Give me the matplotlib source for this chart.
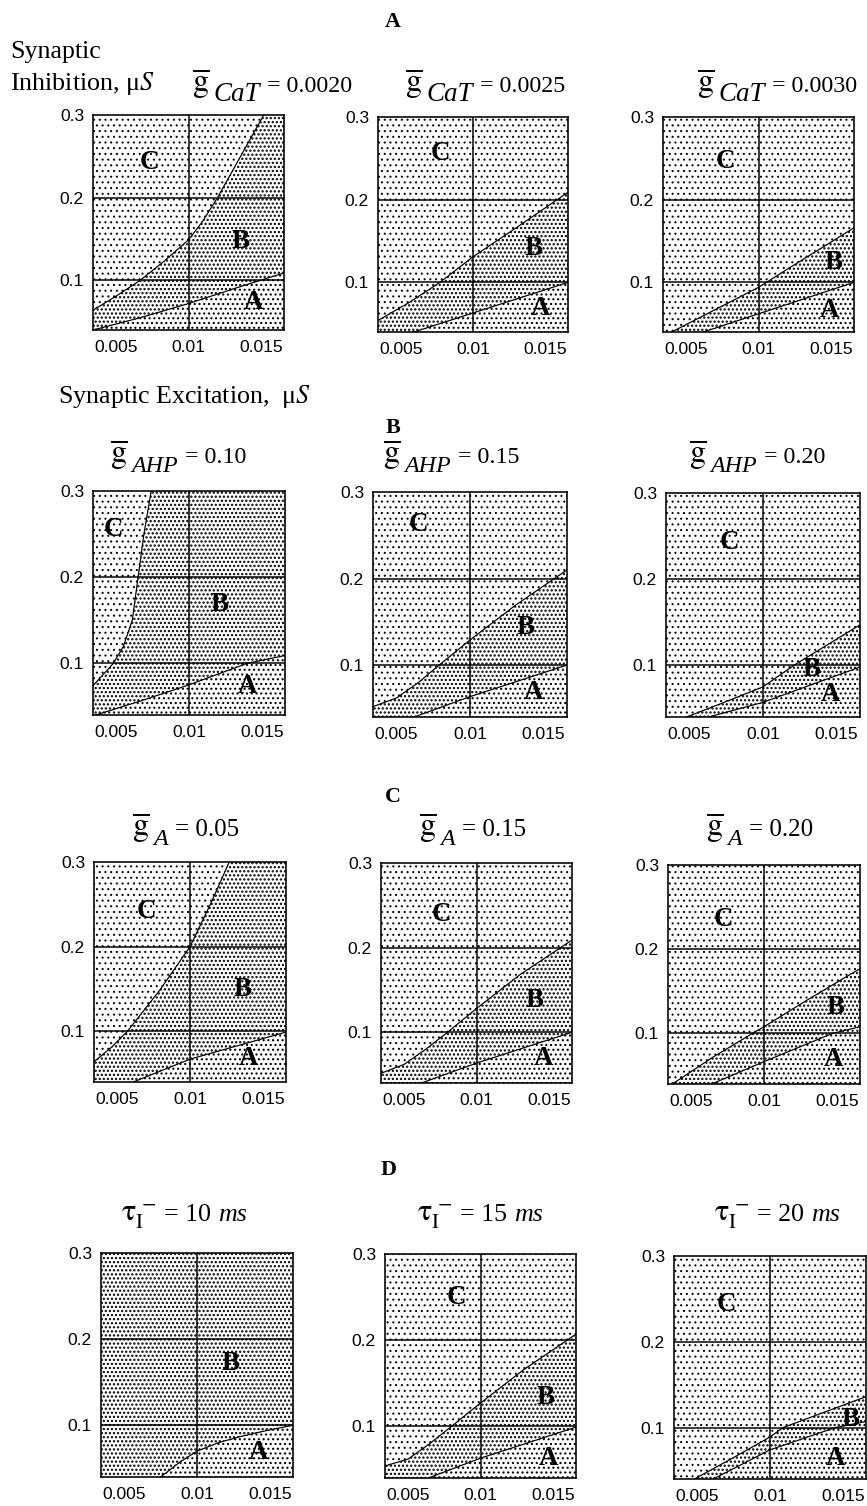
import matplotlib
matplotlib.use("Agg")
import matplotlib.pyplot as plt

W, H, DPI = 867, 1506, 171


def pt(px):
    """Convert a length in output pixels to points."""
    return px * 72.0 / DPI


plt.rcParams['mathtext.fontset'] = 'stix'
plt.rcParams['hatch.linewidth'] = pt(1.0)

# Axis ranges and ticks (synaptic excitation vs inhibition, in microsiemens)
X_MIN, X_MAX = 0.0034, 0.0166
Y_MIN, Y_MAX = 0.04, 0.3
x_ticks = [0.005, 0.01, 0.015]
x_tick_labels = ["0.005", "0.01", "0.015"]
y_ticks = [0.1, 0.2, 0.3]
y_tick_labels = ["0.1", "0.2", "0.3"]
grid_x = [0.01]
grid_y = [0.1, 0.2]

# Row A: T-type calcium conductance
cat_values = ["0.0020", "0.0025", "0.0030"]
cat_upper_x = [[0.0034, 0.0050, 0.00665, 0.0083, 0.0100, 0.0110, 0.0120, 0.0136, 0.0152],
               [0.0034, 0.0055, 0.0077, 0.0100, 0.0130, 0.0166],
               [0.0040, 0.0060, 0.0080, 0.0100, 0.0130, 0.0166]]
cat_upper_y = [[0.064, 0.081, 0.100, 0.123, 0.149, 0.172, 0.200, 0.250, 0.300],
               [0.054, 0.075, 0.100, 0.131, 0.166, 0.209],
               [0.040, 0.058, 0.076, 0.094, 0.127, 0.166]]
cat_lower_x = [[0.0034, 0.0067, 0.0100, 0.0135, 0.0166],
               [0.0059, 0.0100, 0.0166],
               [0.0062, 0.0100, 0.0166]]
cat_lower_y = [[0.040, 0.055, 0.072, 0.092, 0.109],
               [0.040, 0.063, 0.100],
               [0.040, 0.062, 0.100]]

# Row B: afterhyperpolarisation conductance
ahp_values = ["0.10", "0.15", "0.20"]
ahp_upper_x = [[0.0034, 0.0041, 0.0048, 0.0055, 0.0061, 0.0065, 0.0069, 0.0074],
               [0.0034, 0.0050, 0.0065, 0.0079, 0.0100, 0.0130, 0.0166],
               [0.0048, 0.0075, 0.0100, 0.0121, 0.0166]]
ahp_upper_y = [[0.074, 0.087, 0.100, 0.120, 0.150, 0.200, 0.250, 0.300],
               [0.052, 0.062, 0.080, 0.100, 0.129, 0.168, 0.210],
               [0.040, 0.058, 0.075, 0.100, 0.147]]
ahp_lower_x = [[0.0036, 0.0068, 0.0100, 0.0140, 0.0166],
               [0.0062, 0.0100, 0.0166],
               [0.0063, 0.0100, 0.0166]]
ahp_lower_y = [[0.040, 0.057, 0.075, 0.100, 0.109],
               [0.040, 0.0635, 0.100],
               [0.040, 0.057, 0.098]]

# Row C: A-type potassium conductance
ka_values = ["0.05", "0.15", "0.20"]
ka_upper_x = [[0.0034, 0.0046, 0.0057, 0.0079, 0.0100, 0.0114, 0.0127],
              [0.0034, 0.0050, 0.0065, 0.0080, 0.0100, 0.0130, 0.0166],
              [0.0037, 0.0065, 0.0092, 0.0100, 0.0130, 0.0166]]
ka_upper_y = [[0.064, 0.081, 0.100, 0.148, 0.200, 0.250, 0.300],
              [0.0515, 0.062, 0.080, 0.100, 0.128, 0.168, 0.209],
              [0.040, 0.072, 0.100, 0.108, 0.140, 0.177]]
ka_lower_x = [[0.0061, 0.0100, 0.0166],
              [0.0062, 0.0100, 0.0166],
              [0.0064, 0.0100, 0.0147, 0.0166]]
ka_lower_y = [[0.040, 0.067, 0.099],
              [0.040, 0.0635, 0.100],
              [0.040, 0.0665, 0.100, 0.108]]

# Row D: inhibitory synaptic decay time constant (ms)
tau_values = ["10", "15", "20"]
tau_upper_x = [[],
               [0.0034, 0.0050, 0.0065, 0.0080, 0.0100, 0.0130, 0.0166],
               [0.0048, 0.0075, 0.0100, 0.0109, 0.0166]]
tau_upper_y = [[],
               [0.054, 0.062, 0.080, 0.100, 0.127, 0.166, 0.207],
               [0.040, 0.065, 0.089, 0.100, 0.136]]
tau_lower_x = [[0.0075, 0.0088, 0.0100, 0.0115, 0.0130, 0.0148, 0.0166],
               [0.0064, 0.0100, 0.0166],
               [0.0061, 0.0100, 0.0145, 0.0166]]
tau_lower_y = [[0.040, 0.057, 0.070, 0.080, 0.087, 0.094, 0.100],
               [0.040, 0.063, 0.099],
               [0.040, 0.074, 0.100, 0.107]]

region_names = ["A", "B", "C"]
row_headers = ["A", "B", "C", "D"]
row_subscripts = ["CaT", "AHP", "A", None]

rows = [
    (cat_values, cat_upper_x, cat_upper_y, cat_lower_x, cat_lower_y),
    (ahp_values, ahp_upper_x, ahp_upper_y, ahp_lower_x, ahp_lower_y),
    (ka_values, ka_upper_x, ka_upper_y, ka_lower_x, ka_lower_y),
    (tau_values, tau_upper_x, tau_upper_y, tau_lower_x, tau_lower_y),
]

# ---- layout, in output pixels (panel boxes: left, top, right, bottom) ----
panel_boxes = [
    [(93, 115, 284, 330), (378, 117, 568, 332), (663, 117, 854, 332)],
    [(93, 491, 285, 715), (373, 492, 567, 717), (666, 493, 860, 717)],
    [(94, 862, 286, 1082), (381, 863, 572, 1083), (668, 865, 860, 1084)],
    [(101, 1253, 293, 1477), (385, 1254, 576, 1478), (674, 1256, 866, 1479)],
]
title_left = [[192, 405, 697], [110, 383, 689], [132, 419, 706], [121, 417, 714]]
title_base = [92, 463, 836, 1221]
title_em = [(32, 27, 24), (32, 24, 24), (32, 24, 25), (None, None, 26)]
header_pos = [(393, 22), (393, 428), (393, 797), (389, 1170)]
# region letter anchors in data coordinates: (A, B, C) per panel
label_anchor = [
    [[(0.0145, 0.073), (0.0136, 0.147), (0.0073, 0.243)],
     [(0.0147, 0.069), (0.0142, 0.141), (0.0077, 0.256)],
     [(0.0149, 0.066), (0.0152, 0.124), (0.0077, 0.246)]],
    [[(0.0140, 0.073), (0.0121, 0.168), (0.0048, 0.255)],
     [(0.0143, 0.068), (0.0138, 0.144), (0.0065, 0.262)],
     [(0.0146, 0.066), (0.0133, 0.095), (0.0077, 0.242)]],
    [[(0.0140, 0.068), (0.0136, 0.149), (0.0070, 0.242)],
     [(0.0146, 0.069), (0.0140, 0.138), (0.0076, 0.239)],
     [(0.0148, 0.069), (0.0149, 0.131), (0.0072, 0.235)]],
    [[(0.0142, 0.068), (0.0123, 0.172), None],
     [(0.0147, 0.063), (0.0145, 0.133), (0.0083, 0.250)],
     [(0.0145, 0.064), (0.0155, 0.109), (0.0070, 0.243)]],
]

# stipple textures: (pattern, dot stroke in px) - sparse C, medium A, dense B
STIPPLE_C = (".....", 1.0)
STIPPLE_A = ("......", 1.3)
STIPPLE_B = (".......", 1.55)

SERIF = ["Liberation Serif", "DejaVu Serif"]
SANS = ["Liberation Sans", "DejaVu Sans"]


def region_below(xs, ys):
    """Polygon of everything below/right of a boundary curve inside the axes."""
    px, py = list(xs), list(ys)
    if px[-1] < X_MAX - 1e-9:
        px.append(X_MAX)
        py.append(Y_MAX)
    px += [X_MAX, X_MIN]
    py += [Y_MIN, Y_MIN]
    return px, py


def stipple(ax, xs, ys, style, z):
    pattern, stroke = style
    with plt.rc_context({'hatch.linewidth': pt(stroke)}):
        patches = ax.fill(xs, ys, facecolor="white", edgecolor="black",
                          linewidth=0, hatch=pattern, zorder=z)
    for p in patches:
        if hasattr(p, "set_hatch_linewidth"):
            p.set_hatch_linewidth(pt(stroke))


def fx(px):
    return px / W


def fy(py):
    return 1 - py / H


fig = plt.figure(figsize=((W + 0.001) / DPI, (H + 0.001) / DPI), dpi=DPI)
fig.patch.set_facecolor("white")
renderer = fig.canvas.get_renderer()


def place_pieces(left, base, pieces):
    """Lay text pieces left to right on a shared baseline (pixel units)."""
    x = left
    for txt, em, drop, style, gap in pieces:
        t = fig.text(fx(x), fy(base + drop), txt, ha="left", va="baseline",
                     family=SERIF, style=style, fontsize=pt(em))
        x += t.get_window_extent(renderer).width + gap


full_x = [X_MIN, X_MAX, X_MAX, X_MIN]
full_y = [Y_MIN, Y_MIN, Y_MAX, Y_MAX]

for r, (values, ux, uy, lx, ly) in enumerate(rows):
    for c in range(3):
        left, top, right, bottom = panel_boxes[r][c]
        ax = fig.add_axes([fx(left), fy(bottom), (right - left) / W, (bottom - top) / H])
        ax.set_xlim(X_MIN, X_MAX)
        ax.set_ylim(Y_MIN, Y_MAX)

        # region C covers the whole plane, B and A are laid over it
        stipple(ax, full_x, full_y, STIPPLE_C, 1)
        if ux[c]:
            bx, by = region_below(ux[c], uy[c])
        else:
            bx, by = full_x, full_y
        stipple(ax, bx, by, STIPPLE_B, 2)
        axp, ayp = region_below(lx[c], ly[c])
        stipple(ax, axp, ayp, STIPPLE_A, 3)

        for gx in grid_x:
            ax.axvline(gx, color="black", lw=pt(1.5), zorder=4)
        for gy in grid_y:
            ax.axhline(gy, color="black", lw=pt(1.5), zorder=4)

        if ux[c]:
            ax.plot(ux[c], uy[c], color="black", lw=pt(1.2), zorder=5)
        ax.plot(lx[c], ly[c], color="black", lw=pt(1.2), zorder=5)

        for name, pos in zip(region_names, label_anchor[r][c]):
            if pos is None:
                continue
            ax.text(pos[0], pos[1], name, ha="center", va="center",
                    family=SERIF, fontweight="bold", fontsize=pt(27), zorder=6)

        ax.set_xticks(x_ticks)
        ax.set_xticklabels(x_tick_labels)
        ax.set_yticks(y_ticks)
        ax.set_yticklabels(y_tick_labels)
        ax.tick_params(length=0, labelsize=pt(17.5))
        ax.tick_params(axis="x", pad=pt(10))
        ax.tick_params(axis="y", pad=pt(9))
        for lab in ax.get_xticklabels() + ax.get_yticklabels():
            lab.set_family(SANS)
        for sp in ax.spines.values():
            sp.set_linewidth(pt(1.6))
            sp.set_zorder(7)

        # panel title
        g_em, sub_em, rest_em = title_em[r]
        if row_subscripts[r] is not None:
            place_pieces(title_left[r][c], title_base[r], [
                (r"$\overline{\mathrm{g}}$", g_em, 0, "normal", 3),
                (row_subscripts[r], sub_em, 9, "italic", 7),
                ("= " + values[c], rest_em, 0, "normal", 0),
            ])
        else:
            place_pieces(title_left[r][c], title_base[r], [
                (r"$\mathrm{\tau}_{\mathrm{I}}^{\,-}$", 30, 0, "normal", 8),
                ("= " + values[c] + " ", rest_em, 0, "normal", 0),
                ("ms", rest_em, 0, "italic", 0),
            ])

for letter, (hx, hy) in zip(row_headers, header_pos):
    fig.text(fx(hx), fy(hy), letter, ha="center", va="center",
             family=SERIF, fontweight="bold", fontsize=pt(22))

fig.text(fx(10), fy(58), "Synaptic", ha="left", va="baseline",
         family=SERIF, fontsize=pt(26))
fig.text(fx(10), fy(90), r"Inhibition, μ$S$", ha="left", va="baseline",
         family=SERIF, fontsize=pt(26))
fig.text(fx(58), fy(403), r"Synaptic Excitation,  μ$S$", ha="left", va="baseline",
         family=SERIF, fontsize=pt(26))

fig.savefig("out.png", dpi=DPI, facecolor="white")
